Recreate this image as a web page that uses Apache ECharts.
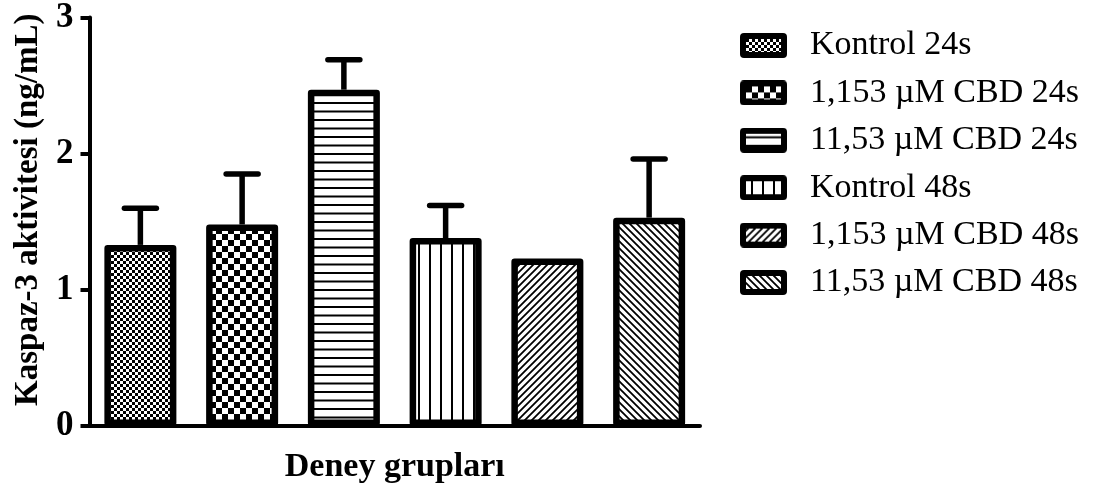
<!DOCTYPE html>
<html>
<head>
<meta charset="utf-8">
<script src="https://cdn.jsdelivr.net/npm/echarts@6/dist/echarts.min.js"></script>
<style>
  html, body { margin: 0; padding: 0; background: #fff; }
  #chart { width: 1097px; height: 491px; }
</style>
</head>
<body>
<div id="chart"></div>
<script>
// Experimental groups (one bar each)
const groups = ['Kontrol 24s', '1,153 µM CBD 24s', '11,53 µM CBD 24s', 'Kontrol 48s', '1,153 µM CBD 48s', '11,53 µM CBD 48s'];
// Mean caspase-3 activity (ng/mL)
const means = [1.33, 1.48, 2.47, 1.38, 1.23, 1.53];
// Standard error (upper whisker only)
const sems = [0.27, 0.37, 0.22, 0.24, 0.00, 0.43];
// Y-axis tick values
const yTicks = [0, 1, 2, 3];

const SERIF = '"Liberation Serif", "Times New Roman", serif';

// Fill patterns for the bars, drawn on small repeating canvas tiles
function tileCanvas(w, h, draw) {
  const c = document.createElement('canvas');
  c.width = w; c.height = h;
  const g = c.getContext('2d');
  g.fillStyle = '#fff';
  g.fillRect(0, 0, w, h);
  g.fillStyle = '#000';
  g.strokeStyle = '#000';
  draw(g, w, h);
  return c;
}
const tiles = [
  // fine checkerboard
  tileCanvas(6, 6, g => { g.fillRect(0, 0, 3, 3); g.fillRect(3, 3, 3, 3); }),
  // coarse checkerboard
  tileCanvas(12, 12, g => { g.fillRect(0, 0, 6, 6); g.fillRect(6, 6, 6, 6); }),
  // horizontal lines
  tileCanvas(8, 17, g => { g.fillRect(0, 0, 8, 2); g.fillRect(0, 8.5, 8, 2); }),
  // vertical lines
  tileCanvas(11, 8, g => { g.fillRect(0, 0, 2, 8); }),
  // forward diagonals
  tileCanvas(7, 7, g => {
    g.lineWidth = 1.8;
    g.beginPath();
    g.moveTo(-1, 8); g.lineTo(8, -1);
    g.moveTo(-4, 4); g.lineTo(4, -4);
    g.moveTo(3, 11); g.lineTo(11, 3);
    g.stroke();
  }),
  // backward diagonals
  tileCanvas(7, 7, g => {
    g.lineWidth = 1.8;
    g.beginPath();
    g.moveTo(-1, -1); g.lineTo(8, 8);
    g.moveTo(3, -4); g.lineTo(11, 4);
    g.moveTo(-4, 3); g.lineTo(4, 11);
    g.stroke();
  })
];

// Legend swatch: thick black rounded frame around a patch of the pattern
function swatch(t) {
  const w = 47, h = 25, b = 6, r = 4;
  const c = document.createElement('canvas');
  c.width = w; c.height = h;
  const g = c.getContext('2d');
  g.fillStyle = '#000';
  g.beginPath();
  g.moveTo(r, 0); g.lineTo(w - r, 0); g.arcTo(w, 0, w, r, r);
  g.lineTo(w, h - r); g.arcTo(w, h, w - r, h, r);
  g.lineTo(r, h); g.arcTo(0, h, 0, h - r, r);
  g.lineTo(0, r); g.arcTo(0, 0, r, 0, r);
  g.closePath();
  g.fill();
  g.fillStyle = g.createPattern(t, 'repeat');
  g.fillRect(b, b, w - 2 * b, h - 2 * b);
  return 'image://' + c.toDataURL();
}

const barSeries = groups.map((name, i) => ({
  name: name,
  type: 'bar',
  stack: 'groups',
  barWidth: 72,
  data: groups.map((_, j) => (j === i ? means[i] : '-')),
  itemStyle: {
    color: { image: tiles[i], repeat: 'repeat' },
    borderColor: '#000',
    borderWidth: 6.5,
    borderJoin: 'round'
  },
  emphasis: { disabled: true },
  z: 2
}));

// Upper error whiskers with a rounded cap
const errorSeries = {
  type: 'custom',
  name: 'SEM',
  data: means.map((m, i) => [i, m, m + sems[i]]),
  z: 1,
  renderItem: function (params, api) {
    const base = api.coord([api.value(0), api.value(1)]);
    const top = api.coord([api.value(0), api.value(2)]);
    if (base[1] - top[1] < 1) return null;
    const half = 16;
    return {
      type: 'group',
      children: [
        { type: 'line', shape: { x1: base[0], y1: base[1], x2: top[0], y2: top[1] },
          style: { stroke: '#000', lineWidth: 5.5 } },
        { type: 'line', shape: { x1: top[0] - half, y1: top[1], x2: top[0] + half, y2: top[1] },
          style: { stroke: '#000', lineWidth: 5.5, lineCap: 'round' } }
      ]
    };
  }
};

const chart = echarts.init(document.getElementById('chart'), null, { renderer: 'canvas' });
chart.setOption({
  animation: false,
  backgroundColor: '#fff',
  grid: { left: 89.5, right: 397, top: 17.5, bottom: 65, containLabel: false },
  legend: {
    orient: 'vertical',
    left: 740,
    top: 28.5,
    padding: 0,
    itemWidth: 47,
    itemHeight: 25,
    itemGap: 13.4,
    selectedMode: false,
    data: groups.map((n, i) => ({ name: n, icon: swatch(tiles[i]) })),
    textStyle: { fontFamily: SERIF, fontSize: 34, color: '#000', padding: [0, 0, 0, 18] }
  },
  xAxis: {
    type: 'category',
    data: groups,
    name: 'Deney grupları',
    nameLocation: 'middle',
    nameGap: 24,
    nameTextStyle: { fontFamily: SERIF, fontSize: 34, fontWeight: 'bold', color: '#000', verticalAlign: 'top' },
    axisLine: { lineStyle: { color: '#000', width: 4 } },
    axisTick: { alignWithLabel: true, length: 10, lineStyle: { color: '#000', width: 3 } },
    axisLabel: { show: false },
    splitLine: { show: false }
  },
  yAxis: {
    type: 'value',
    min: yTicks[0],
    max: yTicks[yTicks.length - 1],
    interval: 1,
    name: 'Kaspaz-3 aktivitesi (ng/mL)',
    nameLocation: 'middle',
    nameRotate: 90,
    nameGap: 45,
    nameTextStyle: { fontFamily: SERIF, fontSize: 33, fontWeight: 'bold', color: '#000', padding: [0, 0, 0, 24] },
    axisLine: { show: true, lineStyle: { color: '#000', width: 4 } },
    axisTick: { show: true, length: 9, lineStyle: { color: '#000', width: 4 } },
    axisLabel: { fontFamily: SERIF, fontSize: 35, fontWeight: 'bold', color: '#000', margin: 16 },
    splitLine: { show: false }
  },
  series: barSeries.concat([errorSeries])
});
</script>
</body>
</html>
